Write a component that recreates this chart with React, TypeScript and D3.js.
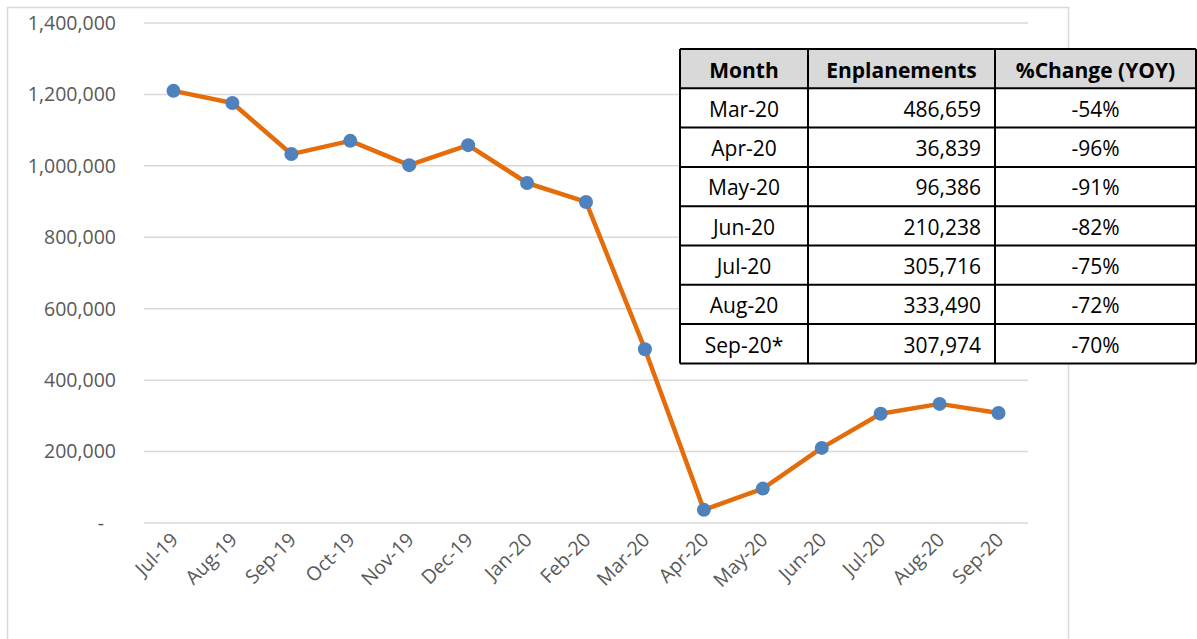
import React from "react";
import * as d3 from "d3";

const months = ["Jul-19","Aug-19","Sep-19","Oct-19","Nov-19","Dec-19","Jan-20","Feb-20","Mar-20","Apr-20","May-20","Jun-20","Jul-20","Aug-20","Sep-20"];
const enplanements = [1210000,1176000,1033000,1070000,1002000,1058000,952000,899000,486659,36839,96386,210238,305716,333490,307974];
const yTicks = [0,200000,400000,600000,800000,1000000,1200000,1400000];

const tableHeader = ["Month","Enplanements","%Change (YOY)"];
const tableMonths = ["Mar-20","Apr-20","May-20","Jun-20","Jul-20","Aug-20","Sep-20*"];
const tableValues = [486659,36839,96386,210238,305716,333490,307974];
const tableChange = ["-54%","-96%","-91%","-82%","-75%","-72%","-70%"];

const W = 1197, H = 639;
const FONT = "'Open Sans', 'Noto Sans', sans-serif";

export default function App() {
  const x = d3.scaleBand<string>().domain(months).range([144, 1028]);
  const y = d3.scaleLinear().domain([0, 1400000]).range([523, 23]);
  const fmt = d3.format(",");
  const line = d3.line<number>().x((_, i) => x(months[i])! + x.bandwidth() / 2).y(d => y(d));

  const tx = 680, ty = 49;
  const colX = [680, 808, 995, 1196];
  const rowH = 39.3;
  const nRows = tableMonths.length + 1;
  const tfs = 21;

  return (
    <svg width={W} height={H} style={{ position: "absolute", left: 0, top: 0, background: "#fff" }} fontFamily={FONT}>
      <rect x={0} y={0} width={W} height={H} fill="#fff" />
      <path d={`M7.5,${H}V7.5H1068.5V${H}`} fill="none" stroke="#d9d9d9" strokeWidth={1.5} />
      {yTicks.map(t => (
        <g key={t}>
          <line x1={144} x2={1028} y1={y(t)} y2={y(t)} stroke="#d9d9d9" strokeWidth={1.5} />
          <text x={t === 0 ? 104 : 116} y={y(t)} dy="0.35em" textAnchor="end" fontSize={19.5} fill="#595959">
            {t === 0 ? "-" : fmt(t)}
          </text>
        </g>
      ))}
      {months.map(m => {
        const cx = x(m)! + x.bandwidth() / 2 + 6;
        return (
          <text key={m} transform={`translate(${cx},${541}) rotate(-45)`} textAnchor="end" fontSize={19.5} fill="#595959">
            {m}
          </text>
        );
      })}
      <path d={line(enplanements)!} fill="none" stroke="#e46c0a" strokeWidth={4.5} strokeLinejoin="round" />
      {enplanements.map((v, i) => (
        <circle key={i} cx={x(months[i])! + x.bandwidth() / 2} cy={y(v)} r={7} fill="#4f81bd" />
      ))}
      <g>
        <rect x={tx} y={ty} width={colX[3] - tx} height={rowH * nRows} fill="#fff" />
        <rect x={tx} y={ty} width={colX[3] - tx} height={rowH} fill="#d9d9d9" />
        {tableHeader.map((h, i) => (
          <text key={h} x={(colX[i] + colX[i + 1]) / 2} y={ty + rowH / 2 + 1.5} dy="0.35em" textAnchor="middle" fontSize={tfs} fontWeight="bold" fill="#000">
            {h}
          </text>
        ))}
        {tableMonths.map((m, r) => {
          const cy = ty + rowH * (r + 1) + rowH / 2 + 1.5;
          return (
            <g key={m}>
              <text x={(colX[0] + colX[1]) / 2} y={cy} dy="0.35em" textAnchor="middle" fontSize={tfs} fill="#000">{m}</text>
              <text x={colX[2] - 14} y={cy} dy="0.35em" textAnchor="end" fontSize={tfs} fill="#000">{fmt(tableValues[r])}</text>
              <text x={(colX[2] + colX[3]) / 2} y={cy} dy="0.35em" textAnchor="middle" fontSize={tfs} fill="#000">{tableChange[r]}</text>
            </g>
          );
        })}
        {d3.range(nRows + 1).map(r => (
          <line key={"h" + r} x1={tx} x2={colX[3]} y1={ty + r * rowH} y2={ty + r * rowH} stroke="#000" strokeWidth={2} />
        ))}
        {colX.map((cx, i) => (
          <line key={"v" + i} x1={cx} x2={cx} y1={ty} y2={ty + nRows * rowH} stroke="#000" strokeWidth={2} />
        ))}
      </g>
    </svg>
  );
}
